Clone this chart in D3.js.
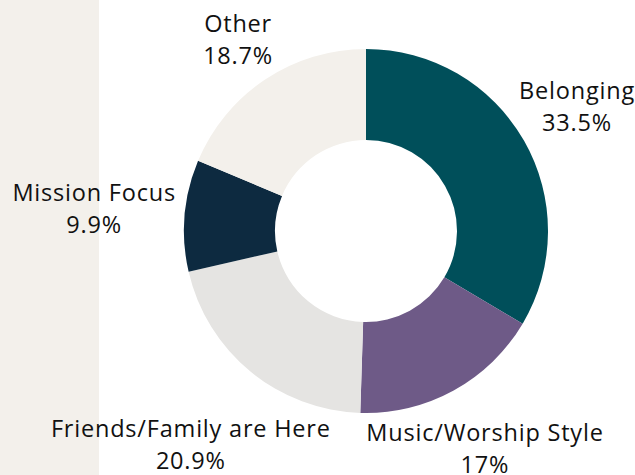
<!DOCTYPE html>
<html>
<head>
<meta charset="utf-8">
<script src="https://cdn.jsdelivr.net/npm/d3@7"></script>
<style>
  html, body { margin: 0; padding: 0; background: #ffffff; }
  svg { display: block; }
  text { font-family: "Open Sans", "Noto Sans", sans-serif; fill: #111111; letter-spacing: 0.8px; }
</style>
</head>
<body>
<svg id="chart" width="635" height="475"></svg>
<script>
const categories = ["Belonging", "Music/Worship Style", "Friends/Family are Here", "Mission Focus", "Other"];
const values = [33.5, 17, 20.9, 9.9, 18.7];
const valueLabels = ["33.5%", "17%", "20.9%", "9.9%", "18.7%"];
const colors = ["#004f5a", "#6e5a87", "#e5e4e2", "#0d2a40", "#f3f0eb"];

const W = 635, H = 475;
const cx = 366, cy = 231, outerR = 182, innerR = 91;
const gap = 8, lineH = 32, fontSize = 23.5;

const svg = d3.select("#chart");
svg.append("rect").attr("x", 0).attr("y", 0).attr("width", 99).attr("height", H).attr("fill", "#f3f0eb");

const data = categories.map((c, i) => ({ name: c, value: values[i], label: valueLabels[i], color: colors[i] }));
const pie = d3.pie().sort(null).value(d => d.value).startAngle(0).endAngle(2 * Math.PI);
const arc = d3.arc().innerRadius(innerR).outerRadius(outerR);
const arcs = pie(data);

const g = svg.append("g").attr("transform", `translate(${cx},${cy})`);
g.selectAll("path").data(arcs).join("path")
  .attr("d", arc)
  .attr("fill", d => d.data.color);

// labels: pushed outward along mid-angle until the text box clears the ring
const lg = svg.append("g");
arcs.forEach(a => {
  const t = lg.append("text").attr("text-anchor", "middle").style("font-size", fontSize + "px");
  t.append("tspan").attr("x", 0).attr("y", 0).text(a.data.name);
  t.append("tspan").attr("x", 0).attr("y", lineH).text(a.data.label);
  const bb = t.node().getBBox();
  const topY = -0.714 * fontSize - 3, botY = lineH + 1;
  const w = bb.width, h = botY - topY;
  const mid = (a.startAngle + a.endAngle) / 2;
  const vx = Math.sin(mid), vy = -Math.cos(mid);
  function minDist(d) {
    const bx = cx + vx * d, by = cy + vy * d;
    const x0 = bx - w / 2, x1 = bx + w / 2, y0 = by - h / 2, y1 = by + h / 2;
    const px = Math.max(x0, Math.min(cx, x1)), py = Math.max(y0, Math.min(cy, y1));
    return Math.hypot(px - cx, py - cy);
  }
  let lo = 0, hi = 600;
  for (let k = 0; k < 60; k++) {
    const m = (lo + hi) / 2;
    if (minDist(m) < outerR + gap) lo = m; else hi = m;
  }
  let bx = cx + vx * hi, by = cy + vy * hi;
  if (bx + w / 2 > W) bx = W - w / 2;
  if (bx - w / 2 < 0) bx = w / 2;
  const dx = bx - (bb.x + w / 2), dy = by - (topY + h / 2);
  t.attr("transform", `translate(${dx},${dy})`);
});
</script>
</body>
</html>
